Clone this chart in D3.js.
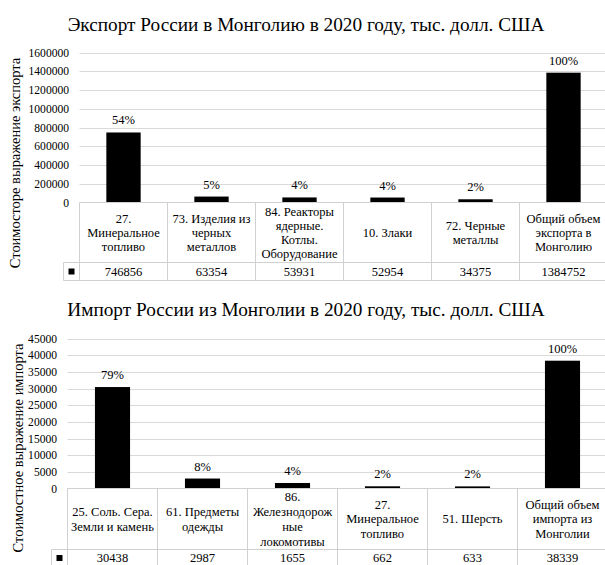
<!DOCTYPE html>
<html>
<head>
<meta charset="utf-8">
<script src="https://cdn.jsdelivr.net/npm/d3@7"></script>
<style>
  html, body { margin: 0; padding: 0; background: #fff; }
  svg { display: block; }
</style>
</head>
<body>
<div id="chart"></div>
<script>
// --- data ---
const exportTitle = 'Экспорт России в Монголию в 2020 году, тыс. долл. США';
const exportAxisTitle = 'Стоимосторе выражение экспорта';
const exportCategories = [
  '27.\nМинеральное\nтопливо',
  '73. Изделия из\nчерных\nметаллов',
  '84. Реакторы\nядерные.\nКотлы.\nОборудование',
  '10. Злаки',
  '72. Черные\nметаллы',
  'Общий объем\nэкспорта в\nМонголию'
];
const exportValues = [746856, 63354, 53931, 52954, 34375, 1384752];
const exportShares = ['54%', '5%', '4%', '4%', '2%', '100%'];
const exportTicks = [0, 200000, 400000, 600000, 800000, 1000000, 1200000, 1400000, 1600000];

const importTitle = 'Импорт России из Монголии в 2020 году, тыс. долл. США';
const importAxisTitle = 'Стоимостное выражение импорта';
const importCategories = [
  '25. Соль. Сера.\nЗемли и камень',
  '61. Предметы\nодежды',
  '86.\nЖелезнодорож\nные\nлокомотивы',
  '27.\nМинеральное\nтопливо',
  '51. Шерсть',
  'Общий объем\nимпорта из\nМонголии'
];
const importValues = [30438, 2987, 1655, 662, 633, 38339];
const importShares = ['79%', '8%', '4%', '2%', '2%', '100%'];
const importTicks = [0, 5000, 10000, 15000, 20000, 25000, 30000, 35000, 40000, 45000];

// pick a serif face that is actually installed (the reference is set in Times)
const ctx = document.createElement('canvas').getContext('2d');
function widthIn(fam, s) { ctx.font = `20px ${fam}`; return ctx.measureText(s).width; }
const probe = 'Экспорт России abcdefghijklm 0123456789';
const candidates = ['"Liberation Serif"', 'Tinos', '"Times New Roman"', 'Times', '"DejaVu Serif"',
  '"Noto Serif"', 'FreeSerif', '"Nimbus Roman"', '"Nimbus Roman No9 L"', 'Georgia'];
let FONT = '"Liberation Sans", Arial, sans-serif';
for (const c of candidates) {
  if (widthIn(`${c}, monospace`, probe) !== widthIn('monospace', probe)) { FONT = `${c}, serif`; break; }
}
// keep the text widths close to the reference whatever face we got
ctx.font = `20px ${FONT}`;
const fit = Math.min(1, 477 / ctx.measureText(exportTitle).width);
const fs = px => (px * fit).toFixed(2) + 'px';

const W = 605, H = 565;
const svg = d3.select('#chart').append('svg')
  .attr('width', W).attr('height', H)
  .attr('font-family', FONT);

function drawChart(cfg, title, axisTitle, cats, vals, shares, ticks) {
  const g = svg.append('g');

  const col = d3.scaleBand().domain(d3.range(cats.length))
    .range([cfg.x0, cfg.x1]).padding(0);
  // bars take ~39% of each column, centred
  const bar = d3.scaleBand().domain(d3.range(cats.length))
    .range([cfg.x0, cfg.x1]).paddingInner(0.61).paddingOuter(0.305);
  const y = d3.scaleLinear().domain([0, d3.max(ticks)]).range([cfg.y0, cfg.yTop]);

  // title
  g.append('text')
    .attr('x', cfg.titleX).attr('y', cfg.titleY)
    .attr('text-anchor', 'middle')
    .style('font-family', FONT)
    .style('font-size', fs(20))
    .text(title);

  // gridlines
  g.append('g').selectAll('line')
    .data(ticks.filter(t => t > 0))
    .join('line')
    .attr('x1', cfg.x0).attr('x2', cfg.x1)
    .attr('y1', d => Math.round(y(d)) + 0.5).attr('y2', d => Math.round(y(d)) + 0.5)
    .attr('stroke', '#d9d9d9').attr('stroke-width', 1);

  // y axis labels (no line, no ticks)
  const axis = d3.axisLeft(y).tickValues(ticks).tickSize(0).tickPadding(0)
    .tickFormat(d3.format('d'));
  const ax = g.append('g').attr('transform', `translate(${cfg.tickRight},0)`).call(axis)
    .attr('font-family', FONT);
  ax.select('.domain').remove();
  ax.selectAll('text')
    .style('font-family', FONT)
    .style('font-size', fs(12)).attr('fill', '#000');

  // y axis title
  g.append('text')
    .attr('transform', `translate(${cfg.axisTitleX},${cfg.axisTitleY}) rotate(-90)`)
    .attr('text-anchor', 'middle')
    .attr('dy', '0.35em')
    .style('font-family', FONT)
    .style('font-size', fs(15))
    .text(axisTitle);

  // bars
  g.append('g').selectAll('rect')
    .data(vals)
    .join('rect')
    .attr('x', (d, i) => bar(i))
    .attr('width', bar.bandwidth())
    .attr('y', d => y(d))
    .attr('height', d => cfg.y0 - y(d))
    .attr('fill', '#000');

  // share labels
  g.append('g').selectAll('text')
    .data(shares)
    .join('text')
    .attr('x', (d, i) => col(i) + col.bandwidth() / 2)
    .attr('y', (d, i) => y(vals[i]) - 8)
    .attr('text-anchor', 'middle')
    .style('font-family', FONT)
    .style('font-size', fs(13))
    .text(d => d);

  // data table
  const t = g.append('g').attr('stroke', '#d0d0d0').attr('stroke-width', 1);
  t.append('line').attr('x1', cfg.x0).attr('x2', cfg.x1).attr('y1', cfg.y0).attr('y2', cfg.y0);
  t.append('line').attr('x1', cfg.legendLeft).attr('x2', cfg.x1).attr('y1', cfg.catBottom).attr('y2', cfg.catBottom);
  t.append('line').attr('x1', cfg.legendLeft).attr('x2', cfg.x1).attr('y1', cfg.valBottom).attr('y2', cfg.valBottom);
  t.selectAll('line.v')
    .data(d3.range(cats.length + 1))
    .join('line').attr('class', 'v')
    .attr('x1', i => i < cats.length ? col(i) : cfg.x1)
    .attr('x2', i => i < cats.length ? col(i) : cfg.x1)
    .attr('y1', cfg.y0).attr('y2', cfg.valBottom);
  t.append('line')
    .attr('x1', cfg.legendLeft).attr('x2', cfg.legendLeft)
    .attr('y1', cfg.catBottom).attr('y2', cfg.valBottom);

  // category labels
  const catMid = (cfg.y0 + cfg.catBottom) / 2;
  cats.forEach((c, i) => {
    const lines = c.split('\n');
    const txt = g.append('text')
      .attr('text-anchor', 'middle')
      .style('font-family', FONT)
      .style('font-size', fs(13));
    lines.forEach((ln, k) => {
      txt.append('tspan')
        .attr('x', col(i) + col.bandwidth() / 2)
        .attr('y', catMid + (k - (lines.length - 1) / 2) * cfg.lineH)
        .attr('dy', '0.35em')
        .text(ln);
    });
  });

  // value row
  g.append('g').selectAll('text')
    .data(vals)
    .join('text')
    .attr('x', (d, i) => col(i) + col.bandwidth() / 2)
    .attr('y', cfg.valY)
    .attr('dy', '0.35em')
    .attr('text-anchor', 'middle')
    .style('font-family', FONT)
    .style('font-size', fs(13))
    .text(d => d);

  // legend key
  const keyX = (cfg.legendLeft + cfg.x0) / 2;
  g.append('rect')
    .attr('x', keyX - 3).attr('y', cfg.valY - 3)
    .attr('width', 6).attr('height', 6)
    .attr('fill', '#000');
}

drawChart({
  titleX: 306, titleY: 31,
  x0: 79.5, x1: 607.5, yTop: 52.5, y0: 202.5,
  catBottom: 262.5, valBottom: 280.5, legendLeft: 63.5, valY: 271.5,
  tickRight: 69, axisTitleX: 15, axisTitleY: 163, lineH: 14
}, exportTitle, exportAxisTitle, exportCategories, exportValues, exportShares, exportTicks);

drawChart({
  titleX: 306, titleY: 316,
  x0: 67.5, x1: 607.5, yTop: 338.5, y0: 488.5,
  catBottom: 549.5, valBottom: 569.5, legendLeft: 51.5, valY: 558,
  tickRight: 57, axisTitleX: 18, axisTitleY: 448, lineH: 14.8
}, importTitle, importAxisTitle, importCategories, importValues, importShares, importTicks);
</script>
</body>
</html>
